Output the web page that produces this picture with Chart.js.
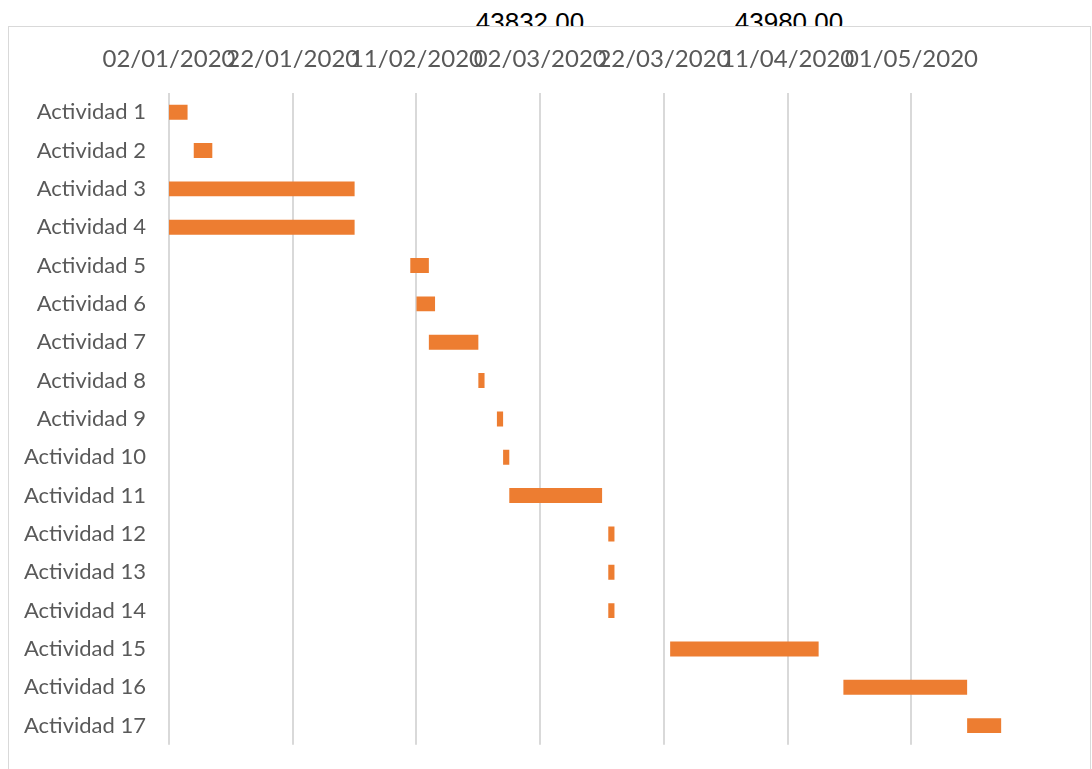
<!DOCTYPE html>
<html>
<head>
<meta charset="utf-8">
<script src="https://cdn.jsdelivr.net/npm/chart.js@4.4.1/dist/chart.umd.min.js"></script>
<style>
    html, body { margin: 0; padding: 0; background: #fff; }
    body { width: 1092px; height: 769px; position: relative; overflow: hidden; }
    .note {
        position: absolute;
        top: 9px;
        font: 26px "Liberation Sans", Arial, sans-serif;
        line-height: 26px;
        color: #000;
        white-space: nowrap;
        transform: translateX(-50%);
    }
    #frame {
        position: absolute;
        left: 8px; top: 26px;
        width: 1081px; height: 780px;
        border: 1px solid #d9d9d9;
        background: #fff;
    }
    #gantt { position: absolute; left: 0; top: 0; }
</style>
</head>
<body>
<div class="note" id="note-0" style="left:530px"></div>
<div class="note" id="note-1" style="left:789px"></div>
<div id="frame"></div>
<canvas id="gantt" width="1092" height="773"></canvas>
<script>
const activities = [
    'Actividad 1', 'Actividad 2', 'Actividad 3', 'Actividad 4', 'Actividad 5',
    'Actividad 6', 'Actividad 7', 'Actividad 8', 'Actividad 9', 'Actividad 10',
    'Actividad 11', 'Actividad 12', 'Actividad 13', 'Actividad 14', 'Actividad 15',
    'Actividad 16', 'Actividad 17'
];
// start dates as Excel serial numbers, durations in days
const startDates = [43832, 43836, 43832, 43832, 43871, 43872, 43874, 43882, 43885,
                    43886, 43887, 43903, 43903, 43903, 43913, 43941, 43961];
const durations = [3, 3, 30, 30, 3, 3, 8, 1, 1, 1, 15, 1, 1, 1, 24, 20, 5.5];
const tickValues = [43832, 43852, 43872, 43892, 43912, 43932, 43952];
const axisMin = 43832;
const axisMax = 43971;
const topNotes = ['43832,00', '43980,00'];

topNotes.forEach((t, i) => {
    document.getElementById('note-' + i).textContent = t;
});

function serialToText(v) {
    const d = new Date(Date.UTC(1899, 11, 30) + v * 86400000);
    const dd = String(d.getUTCDate()).padStart(2, '0');
    const mm = String(d.getUTCMonth() + 1).padStart(2, '0');
    return `${dd}/${mm}/${d.getUTCFullYear()}`;
}

const bars = activities.map((_, i) => [startDates[i], startDates[i] + durations[i]]);

const ctx = document.getElementById('gantt').getContext('2d');
new Chart(ctx, {
    type: 'bar',
    data: {
        labels: activities,
        datasets: [{
            data: bars,
            backgroundColor: '#ed7d31',
            borderWidth: 0,
            borderSkipped: false,
            categoryPercentage: 1,
            barPercentage: 0.39
        }]
    },
    options: {
        indexAxis: 'y',
        responsive: false,
        animation: false,
        layout: { padding: { left: 0, top: 0, right: 63, bottom: 8 } },
        plugins: { legend: { display: false }, tooltip: { enabled: false } },
        scales: {
            x: {
                type: 'linear',
                position: 'top',
                min: axisMin,
                max: axisMax,
                afterBuildTicks: scale => { scale.ticks = tickValues.map(v => ({ value: v })); },
                afterFit: scale => { scale.height = 93; },
                grid: { color: '#d9d9d9', lineWidth: 2, drawTicks: false },
                border: { display: false },
                ticks: {
                    autoSkip: false,
                    maxRotation: 0,
                    minRotation: 0,
                    padding: 19,
                    color: '#595959',
                    font: { family: 'Lato', size: 24 },
                    callback: value => serialToText(value)
                }
            },
            y: {
                afterFit: scale => { scale.width = 169; },
                grid: { display: false },
                border: { display: false },
                ticks: {
                    padding: 15,
                    color: '#595959',
                    font: { family: 'Lato', size: 22 }
                }
            }
        }
    }
});
</script>
</body>
</html>
